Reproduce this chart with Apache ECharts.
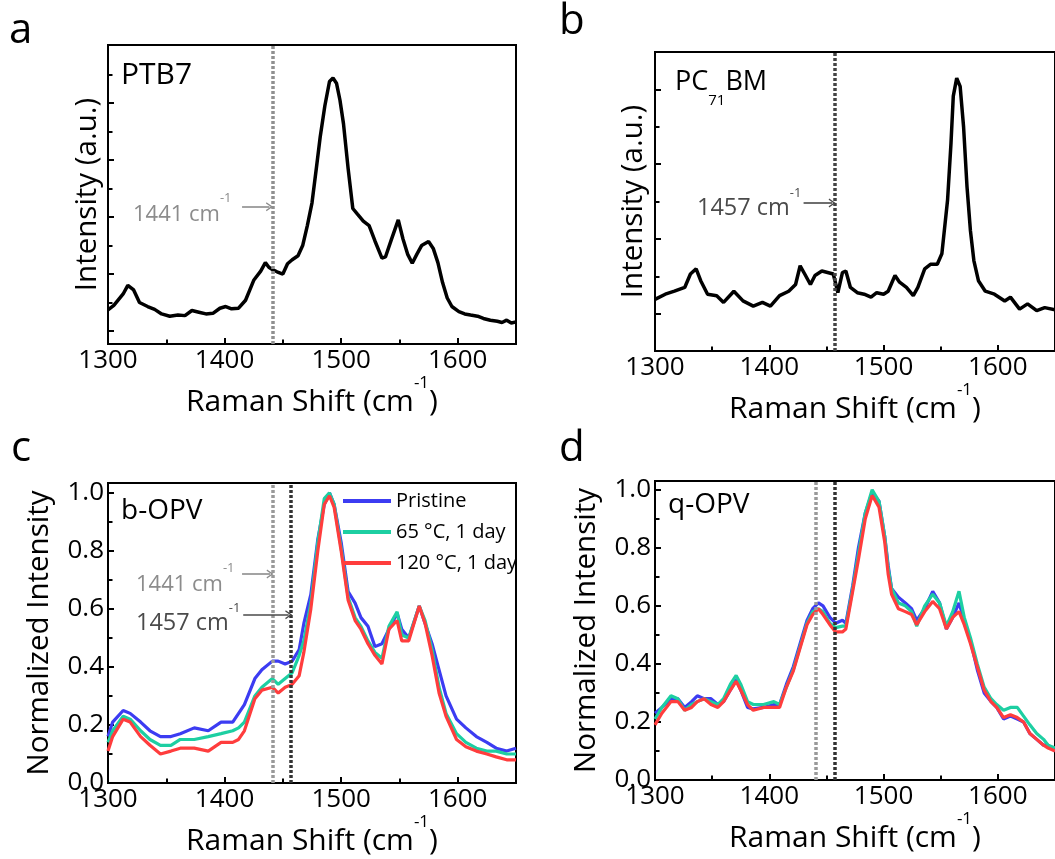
<!DOCTYPE html>
<html>
<head>
<meta charset="utf-8">
<script src="https://cdn.jsdelivr.net/npm/echarts@6/dist/echarts.min.js"></script>
<style>
html,body{margin:0;padding:0;background:#fff;}
#chart{width:1055px;height:859px;}
</style>
</head>
<body>
<div id="chart"></div>
<script>
// ---------------- data ----------------
const xMajorTicks = [1300, 1400, 1500, 1600];
const xMinorTicks = [1350, 1450, 1550];
const normMajorTicks = [0, 0.2, 0.4, 0.6, 0.8, 1.0];
const normMinorTicks = [0.1, 0.3, 0.5, 0.7, 0.9];
const aMajorTicks = [0, 1, 2, 3, 4];
const aMinorTicks = [0.5, 1.5, 2.5, 3.5, 4.5];
const bMajorTicks = [0, 1, 2, 3];
const bMinorTicks = [0.5, 1.5, 2.5];
const legendNames = ['Pristine', '65 °C, 1 day', '120 °C, 1 day'];
const markPTB7 = 1441;
const markPCBM = 1457;

// Panel a: PTB7
const aX = [1300,1305,1309,1313,1317,1322,1327,1334,1340,1346,1353,1360,1366,1372,1378,1384,1390,1396,1401,1406,1412,1418,1425,1431,1435,1438,1441,1445,1450,1454,1458,1463,1467,1471,1475,1479,1482,1486,1490,1493,1496,1499,1502,1506,1510,1514,1519,1524,1529,1535,1538,1543,1549,1553,1557,1561,1565,1569,1575,1579,1583,1587,1591,1595,1601,1606,1611,1617,1622,1628,1634,1638,1642,1646,1650];
const aY = [0.37,0.45,0.55,0.65,0.80,0.72,0.50,0.43,0.38,0.30,0.26,0.28,0.27,0.36,0.33,0.30,0.31,0.40,0.43,0.39,0.40,0.54,0.89,1.05,1.20,1.12,1.08,1.04,1.00,1.18,1.25,1.32,1.50,1.85,2.25,2.90,3.40,3.95,4.38,4.44,4.35,4.05,3.64,2.85,2.15,2.05,1.93,1.85,1.58,1.28,1.30,1.60,1.95,1.62,1.35,1.19,1.35,1.50,1.57,1.45,1.20,0.85,0.58,0.43,0.34,0.30,0.28,0.26,0.22,0.19,0.17,0.15,0.19,0.14,0.16];

// Panel b: PC71BM
const bX = [1300,1309,1317,1326,1331,1336,1340,1346,1354,1360,1369,1377,1386,1394,1401,1409,1417,1423,1427,1431,1436,1440,1446,1451,1456,1460,1464,1467,1471,1477,1483,1489,1494,1500,1504,1510,1514,1520,1526,1530,1536,1541,1547,1551,1556,1559,1561,1564,1567,1570,1573,1576,1579,1583,1589,1597,1606,1611,1619,1626,1634,1641,1650];
const bY = [0.19,0.26,0.30,0.35,0.53,0.60,0.44,0.26,0.24,0.15,0.30,0.17,0.10,0.15,0.10,0.24,0.30,0.39,0.64,0.53,0.39,0.51,0.57,0.55,0.53,0.28,0.55,0.57,0.35,0.28,0.26,0.22,0.28,0.26,0.30,0.51,0.42,0.35,0.24,0.35,0.60,0.66,0.66,0.80,1.52,2.28,2.91,3.15,3.04,2.50,1.70,1.11,0.71,0.44,0.30,0.26,0.17,0.22,0.06,0.13,0.04,0.08,0.05];

// Panel c: b-OPV
const cX = [1300,1304,1313,1319,1328,1336,1345,1354,1362,1374,1386,1397,1407,1412,1417,1426,1432,1441,1446,1452,1458,1464,1468,1474,1480,1485.5,1490,1494,1500,1506,1512,1517,1523,1529,1535,1541,1548,1552,1558,1567,1572,1578,1584,1590,1599,1607,1616,1625,1633,1642,1650];
const cPristine = [0.16,0.21,0.25,0.24,0.21,0.18,0.16,0.16,0.17,0.19,0.18,0.21,0.21,0.24,0.27,0.36,0.39,0.42,0.42,0.41,0.42,0.46,0.55,0.65,0.84,0.96,1.00,0.96,0.83,0.66,0.62,0.57,0.54,0.47,0.48,0.53,0.585,0.53,0.50,0.61,0.55,0.48,0.39,0.30,0.22,0.19,0.16,0.14,0.12,0.11,0.12];
const c65 = [0.14,0.18,0.23,0.22,0.18,0.15,0.13,0.13,0.15,0.15,0.16,0.17,0.18,0.19,0.21,0.30,0.33,0.36,0.34,0.36,0.38,0.44,0.49,0.62,0.83,0.98,1.00,0.96,0.81,0.64,0.57,0.54,0.49,0.45,0.43,0.54,0.59,0.51,0.50,0.61,0.56,0.46,0.33,0.24,0.17,0.14,0.12,0.11,0.11,0.10,0.10];
const c120 = [0.11,0.16,0.22,0.21,0.16,0.13,0.10,0.11,0.12,0.12,0.11,0.14,0.14,0.15,0.18,0.29,0.32,0.33,0.31,0.33,0.34,0.37,0.45,0.60,0.80,0.96,0.99,0.95,0.80,0.63,0.56,0.53,0.48,0.44,0.41,0.53,0.56,0.49,0.49,0.61,0.55,0.44,0.31,0.23,0.15,0.125,0.11,0.10,0.09,0.08,0.08];

// Panel d: q-OPV
const dX = [1300,1306,1314,1320,1326,1332,1337,1343,1349,1355,1360,1366,1371,1375,1381,1386,1395,1404,1409,1415,1421,1427,1433,1438,1443,1447,1453,1458,1464,1467,1473,1478,1484,1490,1496,1501,1504,1507,1513,1519,1524.5,1529,1536,1543,1549,1555,1560.5,1566,1570.6,1576,1582,1588,1594,1599,1605,1611,1617,1622.5,1628,1634,1640,1644,1650];
const dPristine = [0.23,0.25,0.28,0.28,0.25,0.27,0.29,0.28,0.28,0.26,0.27,0.31,0.345,0.31,0.25,0.245,0.25,0.26,0.26,0.33,0.39,0.47,0.55,0.59,0.61,0.60,0.56,0.54,0.55,0.54,0.67,0.80,0.92,0.99,0.96,0.84,0.74,0.66,0.63,0.61,0.59,0.55,0.59,0.65,0.61,0.52,0.56,0.61,0.55,0.48,0.38,0.30,0.27,0.25,0.21,0.22,0.21,0.20,0.16,0.14,0.12,0.12,0.10];
const d65 = [0.21,0.25,0.29,0.28,0.24,0.26,0.27,0.28,0.27,0.26,0.28,0.33,0.36,0.33,0.27,0.26,0.26,0.27,0.26,0.32,0.38,0.46,0.54,0.58,0.59,0.58,0.54,0.525,0.53,0.53,0.66,0.78,0.92,1.00,0.96,0.84,0.73,0.66,0.61,0.60,0.58,0.53,0.60,0.64,0.61,0.53,0.58,0.65,0.56,0.49,0.40,0.32,0.28,0.26,0.24,0.25,0.25,0.22,0.19,0.16,0.14,0.12,0.11];
const d120 = [0.19,0.23,0.27,0.27,0.24,0.25,0.27,0.28,0.26,0.25,0.27,0.31,0.34,0.31,0.26,0.24,0.25,0.25,0.25,0.32,0.375,0.455,0.535,0.57,0.59,0.57,0.535,0.51,0.51,0.52,0.65,0.76,0.90,0.98,0.94,0.82,0.71,0.64,0.59,0.58,0.57,0.535,0.58,0.615,0.59,0.52,0.56,0.58,0.535,0.47,0.39,0.31,0.27,0.25,0.215,0.225,0.215,0.20,0.16,0.14,0.12,0.11,0.10];

// ---------------- styling ----------------
const FONT = "'Open Sans', 'Noto Sans', sans-serif";
const COL = ['#3c3cf2', '#1dcfa2', '#ff3d3d'];
const GRAY = '#8c8c8c';
const DARK = '#4a4a4a';
const CHEV = 'path://M5,0 L10,9 L8.6,9.8 L5,3.2 L1.4,9.8 L0,9 Z';

const grids = [
  {left: 108, top: 45, width: 408, height: 299},
  {left: 655, top: 52, width: 408, height: 299},
  {left: 108, top: 483, width: 408, height: 300},
  {left: 655, top: 481, width: 408, height: 299}
];

const xName = '{a|Raman Shift (cm}{s|-1}{a|)}';
const xNameStyle = {
  rich: {
    a: {fontSize: 30, fontFamily: FONT, color: '#000', lineHeight: 42, verticalAlign: 'bottom'},
    s: {fontSize: 17, fontFamily: FONT, color: '#000', lineHeight: 14, verticalAlign: 'top'}
  }
};

function xMajor(g) {
  return {
    type: 'value', gridIndex: g, min: 1300, max: 1650, interval: 100, position: 'bottom',
    axisLine: {show: true, onZero: false, lineStyle: {color: '#000', width: 2}},
    axisTick: {show: true, inside: true, length: 6, lineStyle: {color: '#000', width: 2}, customValues: xMajorTicks},
    axisLabel: {show: true, customValues: xMajorTicks, fontSize: 26, fontFamily: FONT, color: '#000', margin: 4,
      formatter: v => (v % 100 === 0 && v < 1650) ? String(v) : ''},
    splitLine: {show: false},
    name: xName, nameLocation: 'middle', nameGap: 31, nameTextStyle: xNameStyle
  };
}
function xMinor(g) {
  return {
    type: 'value', gridIndex: g, min: 1300, max: 1650, position: 'bottom', offset: 0,
    axisLine: {show: false, onZero: false},
    axisTick: {show: true, inside: true, length: 4.5, lineStyle: {color: '#000', width: 2}, customValues: xMinorTicks},
    axisLabel: {show: false}, splitLine: {show: false}
  };
}
function yMajor(g, min, max, ticks, showLabels, name, gap) {
  return {
    type: 'value', gridIndex: g, min: min, max: max, position: 'left',
    axisLine: {show: true, onZero: false, lineStyle: {color: '#000', width: 2}},
    axisTick: {show: true, inside: true, length: 6, lineStyle: {color: '#000', width: 2}, customValues: ticks},
    axisLabel: {show: showLabels, customValues: ticks, fontSize: 26, fontFamily: FONT, color: '#000', margin: 4,
      formatter: v => v.toFixed(1)},
    splitLine: {show: false},
    name: name, nameLocation: 'middle', nameGap: gap,
    nameTextStyle: {fontSize: 29.5, fontFamily: FONT, color: '#000'}
  };
}
function yMinor(g, min, max, ticks) {
  return {
    type: 'value', gridIndex: g, min: min, max: max, position: 'left', offset: 0,
    axisLine: {show: false, onZero: false},
    axisTick: {show: true, inside: true, length: 4.5, lineStyle: {color: '#000', width: 2}, customValues: ticks},
    axisLabel: {show: false}, splitLine: {show: false}
  };
}

function zip(xs, ys) { return xs.map((x, i) => [x, ys[i]]); }

function vline(x, color) {
  return {xAxis: x, lineStyle: {color: color, type: [3, 2], width: 3.5}};
}
function arrow(x0, x1, y, color) {
  const ls = {color: color, type: 'solid', width: 1.6};
  return [
    {coord: [x0, y], symbol: 'none', lineStyle: ls},
    {coord: [x1, y], symbol: CHEV, symbolSize: [9, 7], lineStyle: ls, itemStyle: {color: color}}
  ];
}
function mark(data) {
  return {silent: true, symbol: ['none', 'none'], label: {show: false}, animation: false, data: data};
}

function lineSeries(name, g, data, color, width, ml) {
  const s = {
    name: name, type: 'line', xAxisIndex: g, yAxisIndex: g, data: data,
    showSymbol: false, symbol: 'none', animation: false, clip: true,
    lineStyle: {color: color, width: width}, itemStyle: {color: color}
  };
  if (ml) s.markLine = ml;
  return s;
}

const series = [
  lineSeries('PTB7', 0, zip(aX, aY), '#000', 3.5, mark([vline(markPTB7, '#909090'), arrow(1415, 1438.5, 2.18, GRAY)])),
  lineSeries('PC71BM', 1, zip(bX, bY), '#000', 3.5, mark([vline(markPCBM, '#444'), arrow(1430, 1455, 1.48, DARK)])),
  lineSeries(legendNames[0], 2, zip(cX, cPristine), COL[0], 3.2,
    mark([vline(markPTB7, '#999'), vline(markPCBM, '#333'), arrow(1415, 1439, 0.72, GRAY), arrow(1416, 1455, 0.58, DARK)])),
  lineSeries(legendNames[1], 2, zip(cX, c65), COL[1], 3.2),
  lineSeries(legendNames[2], 2, zip(cX, c120), COL[2], 3.2),
  lineSeries(legendNames[0], 3, zip(dX, dPristine), COL[0], 3.2,
    mark([vline(markPTB7, '#999'), vline(markPCBM, '#333')])),
  lineSeries(legendNames[1], 3, zip(dX, d65), COL[1], 3.2),
  lineSeries(legendNames[2], 3, zip(dX, d120), COL[2], 3.2)
];

function supText(x, y, label, color, size) {
  return {
    type: 'text', x: x, y: y, silent: true,
    style: {
      text: '{m|' + label + ' cm}{s|-1}', verticalAlign: 'middle', align: 'left',
      rich: {
        m: {fontSize: size, fontFamily: FONT, fill: color, lineHeight: 34, verticalAlign: 'bottom'},
        s: {fontSize: 13, fontFamily: FONT, fill: color, lineHeight: 12, verticalAlign: 'top'}
      }
    }
  };
}
function plainText(x, y, t, size) {
  return {type: 'text', x: x, y: y, silent: true,
    style: {text: t, fontSize: size, fontFamily: FONT, fill: '#000', verticalAlign: 'middle', align: 'left'}};
}

const graphic = [
  plainText(9, 31, 'a', 42),
  plainText(559, 22, 'b', 42),
  plainText(11, 449, 'c', 42),
  plainText(559, 449, 'd', 42),
  plainText(121, 75, 'PTB7', 30),
  {
    type: 'text', x: 675, y: 69, silent: true,
    style: {
      text: '{m|PC}{s|71}{m|BM}', verticalAlign: 'top', align: 'left',
      rich: {
        m: {fontSize: 27, fontFamily: FONT, fill: '#000', lineHeight: 30, verticalAlign: 'top'},
        s: {fontSize: 15, fontFamily: FONT, fill: '#000', lineHeight: 63, verticalAlign: 'middle'}
      }
    }
  },
  plainText(121, 511, 'b-OPV', 28),
  plainText(668, 505, 'q-OPV', 28),
  supText(133, 208.5, '1441', GRAY, 22),
  supText(697, 203.5, '1457', DARK, 23.5),
  supText(136, 578.5, '1441', GRAY, 22),
  supText(136, 618.5, '1457', DARK, 23.5)
];

const option = {
  backgroundColor: '#fff',
  animation: false,
  grid: grids.map(g => Object.assign({show: true, borderColor: '#000', borderWidth: 2, backgroundColor: 'transparent', containLabel: false}, g)),
  xAxis: [xMajor(0), xMajor(1), xMajor(2), xMajor(3), xMinor(0), xMinor(1), xMinor(2), xMinor(3)],
  yAxis: [
    yMajor(0, -0.228, 5.02, aMajorTicks, false, 'Intensity (a.u.)', 5),
    yMajor(1, -0.5, 3.5, bMajorTicks, false, 'Intensity (a.u.)', 6),
    yMajor(2, 0, 1.034, normMajorTicks, true, 'Normalized Intensity', 53),
    yMajor(3, 0, 1.03, normMajorTicks, true, 'Normalized Intensity', 53),
    yMinor(0, -0.228, 5.02, aMinorTicks),
    yMinor(1, -0.5, 3.5, bMinorTicks),
    yMinor(2, 0, 1.034, normMinorTicks),
    yMinor(3, 0, 1.03, normMinorTicks)
  ],
  legend: {
    left: 343, top: 491, orient: 'vertical', padding: 0,
    itemWidth: 48, itemHeight: 4, itemGap: 11, icon: 'rect', selectedMode: false,
    textStyle: {fontSize: 20, fontFamily: FONT, color: '#000'},
    data: legendNames
  },
  graphic: graphic,
  series: series
};

const chart = echarts.init(document.getElementById('chart'), null, {renderer: 'canvas'});
chart.setOption(option);
</script>
</body>
</html>
